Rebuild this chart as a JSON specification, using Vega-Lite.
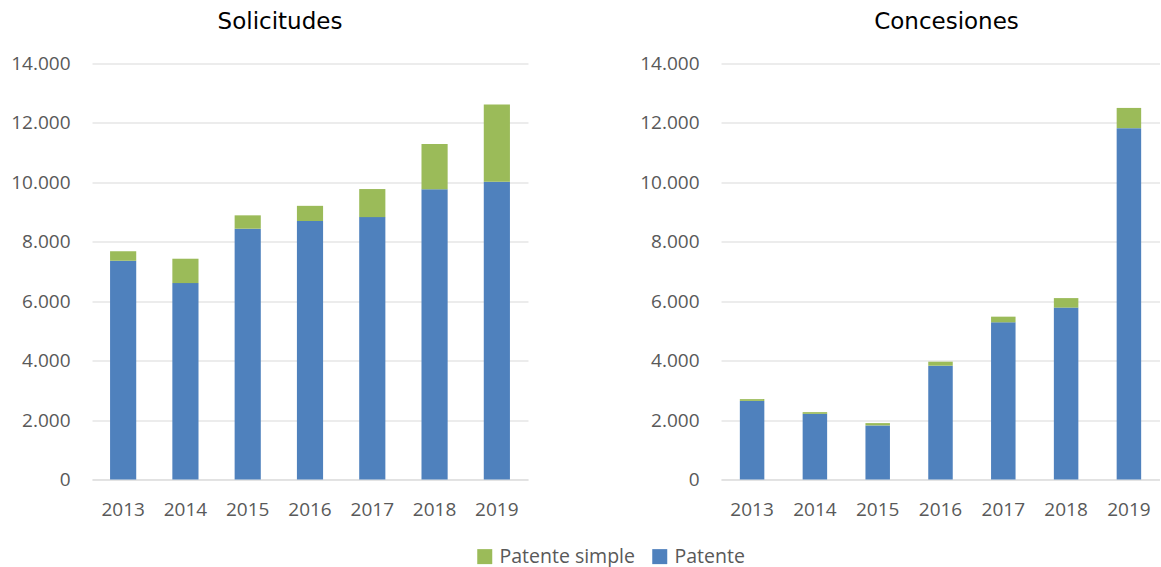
{
  "$schema": "https://vega.github.io/schema/vega-lite/v6.json",
  "padding": {"left": 10, "top": 10.5, "right": 0, "bottom": 2},
  "background": "white",
  "config": {
    "font": "Open Sans",
    "view": {"stroke": null},
    "axis": {"labelColor": "#595959", "labelFont": "Open Sans", "labelFontSize": 19, "ticks": false, "title": null, "gridColor": "#d9d9d9", "gridWidth": 1},
    "title": {"font": "DejaVu Sans", "fontSize": 23, "fontWeight": "normal", "color": "#000000"},
    "legend": {"labelFont": "Open Sans", "labelFontSize": 19.5, "labelColor": "#595959"}
  },
  "datasets": {
    "d": [
      {"panel": "Solicitudes", "year": "2013", "serie": "Patente", "value": 7360},
      {"panel": "Solicitudes", "year": "2013", "serie": "Patente simple", "value": 320},
      {"panel": "Solicitudes", "year": "2014", "serie": "Patente", "value": 6610},
      {"panel": "Solicitudes", "year": "2014", "serie": "Patente simple", "value": 820},
      {"panel": "Solicitudes", "year": "2015", "serie": "Patente", "value": 8440},
      {"panel": "Solicitudes", "year": "2015", "serie": "Patente simple", "value": 450},
      {"panel": "Solicitudes", "year": "2016", "serie": "Patente", "value": 8700},
      {"panel": "Solicitudes", "year": "2016", "serie": "Patente simple", "value": 510},
      {"panel": "Solicitudes", "year": "2017", "serie": "Patente", "value": 8830},
      {"panel": "Solicitudes", "year": "2017", "serie": "Patente simple", "value": 945},
      {"panel": "Solicitudes", "year": "2018", "serie": "Patente", "value": 9770},
      {"panel": "Solicitudes", "year": "2018", "serie": "Patente simple", "value": 1520},
      {"panel": "Solicitudes", "year": "2019", "serie": "Patente", "value": 10020},
      {"panel": "Solicitudes", "year": "2019", "serie": "Patente simple", "value": 2600},
      {"panel": "Concesiones", "year": "2013", "serie": "Patente", "value": 2645},
      {"panel": "Concesiones", "year": "2013", "serie": "Patente simple", "value": 60},
      {"panel": "Concesiones", "year": "2014", "serie": "Patente", "value": 2210},
      {"panel": "Concesiones", "year": "2014", "serie": "Patente simple", "value": 57},
      {"panel": "Concesiones", "year": "2015", "serie": "Patente", "value": 1820},
      {"panel": "Concesiones", "year": "2015", "serie": "Patente simple", "value": 78},
      {"panel": "Concesiones", "year": "2016", "serie": "Patente", "value": 3830},
      {"panel": "Concesiones", "year": "2016", "serie": "Patente simple", "value": 135},
      {"panel": "Concesiones", "year": "2017", "serie": "Patente", "value": 5290},
      {"panel": "Concesiones", "year": "2017", "serie": "Patente simple", "value": 190},
      {"panel": "Concesiones", "year": "2018", "serie": "Patente", "value": 5785},
      {"panel": "Concesiones", "year": "2018", "serie": "Patente simple", "value": 320},
      {"panel": "Concesiones", "year": "2019", "serie": "Patente", "value": 11825},
      {"panel": "Concesiones", "year": "2019", "serie": "Patente simple", "value": 680}
    ]
  },
  "spacing": 111,
  "hconcat": [
    {
      "data": {"name": "d"},
      "transform": [{"filter": "datum.panel === 'Solicitudes'"}],
      "title": {"text": "Solicitudes", "dx": -30, "offset": 20.5},
      "width": 436,
      "height": 416,
      "mark": {"type": "bar"},
      "encoding": {
        "x": {"field": "year", "type": "nominal", "scale": {"paddingInner": 0.58, "paddingOuter": 0.29},
              "axis": {"labelAngle": 0, "domainColor": "#d9d9d9", "labelPadding": 21}},
        "y": {"field": "value", "type": "quantitative", "stack": "zero", "scale": {"domain": [0, 14000]},
              "axis": {"values": [0, 2000, 4000, 6000, 8000, 10000, 12000, 14000], "domain": false, "labelPadding": 22,
                       "labelExpr": "replace(format(datum.value, ','), ',', '.')"}},
        "color": {"field": "serie", "type": "nominal",
                  "scale": {"domain": ["Patente simple", "Patente"], "range": ["#9BBB59", "#4F81BD"]},
                  "legend": {"orient": "none", "legendX": 383, "legendY": 483, "direction": "horizontal", "title": null, "symbolType": "square", "symbolSize": 225, "symbolStrokeWidth": 0, "columnPadding": 15, "labelOffset": 5}},
        "order": {"field": "serie", "sort": "ascending"}
      }
    },
    {
      "data": {"name": "d"},
      "transform": [{"filter": "datum.panel === 'Concesiones'"}],
      "title": {"text": "Concesiones", "offset": 20.5, "dx": 6},
      "width": 439,
      "height": 416,
      "mark": {"type": "bar"},
      "encoding": {
        "x": {"field": "year", "type": "nominal", "scale": {"paddingInner": 0.61, "paddingOuter": 0.3},
              "axis": {"labelAngle": 0, "domainColor": "#d9d9d9", "labelPadding": 21}},
        "y": {"field": "value", "type": "quantitative", "stack": "zero", "scale": {"domain": [0, 14000]},
              "axis": {"values": [0, 2000, 4000, 6000, 8000, 10000, 12000, 14000], "domain": false, "labelPadding": 22,
                       "labelExpr": "replace(format(datum.value, ','), ',', '.')"}},
        "color": {"field": "serie", "type": "nominal",
                  "scale": {"domain": ["Patente simple", "Patente"], "range": ["#9BBB59", "#4F81BD"]},
                  "legend": null},
        "order": {"field": "serie", "sort": "ascending"}
      }
    }
  ]
}
